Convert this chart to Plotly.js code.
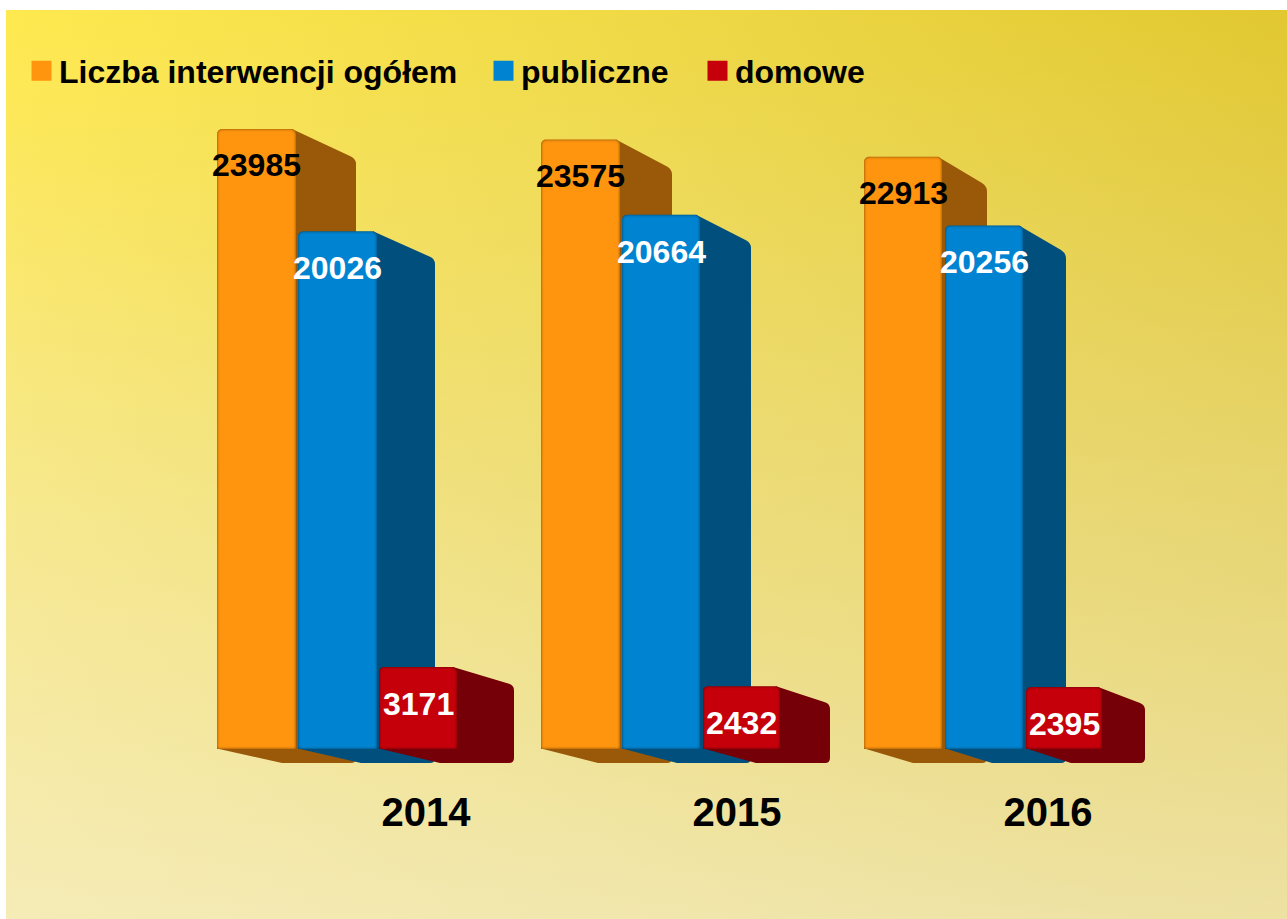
<!DOCTYPE html>
<html lang="pl">
<head>
<meta charset="utf-8">
<title>Liczba interwencji</title>
<script src="https://cdn.plot.ly/plotly-3.0.1.min.js"></script>
<style>
html,body{margin:0;padding:0;background:#fff;width:1287px;height:919px;overflow:hidden}
#bg{position:absolute;left:6px;top:10px;width:1281px;height:909px;
background:
 linear-gradient(to top right,rgba(255,250,222,.28) 0%,rgba(255,250,222,0) 45%),
 linear-gradient(to bottom,rgba(238,230,190,0) 0%,rgba(238,228,180,.46) 50%,rgba(240,230,182,.86) 100%),
 linear-gradient(100deg,#FFE94F 0%,#EDD743 50%,#DEC42B 100%);}
#chart{position:absolute;left:0;top:0;width:1287px;height:919px}
</style>
</head>
<body>
<div id="bg"></div>
<div id="chart"></div>
<svg width="0" height="0" style="position:absolute">
  <defs>
    <filter id="bevel" x="-15%" y="-15%" width="130%" height="130%" color-interpolation-filters="sRGB">
      <feComponentTransfer in="SourceAlpha" result="inv"><feFuncA type="table" tableValues="1 0"/></feComponentTransfer>
      <feGaussianBlur in="inv" stdDeviation="1.6" result="blur"/>
      <feFlood flood-color="#000" flood-opacity=".55"/>
      <feComposite in2="blur" operator="in"/>
      <feComposite in2="SourceAlpha" operator="in" result="shade"/>
      <feMerge><feMergeNode in="SourceGraphic"/><feMergeNode in="shade"/></feMerge>
    </filter>
  </defs>
</svg>
<script>
const years = ['2014', '2015', '2016'];
const seriesNames = ['Liczba interwencji ogółem', 'publiczne', 'domowe'];
const ogolem = [23985, 23575, 22913];
const publiczne = [20026, 20664, 20256];
const domowe = [3171, 2432, 2395];

const seriesValues = [ogolem, publiczne, domowe];
const frontColors = ['#FF950E', '#0084D1', '#C5000B'];
const sideColors = ['#995909', '#004F7D', '#760007'];
const labelColors = ['#000000', '#ffffff', '#ffffff'];
const labelShift = [-36, -37, -37];

// x-axis units = screen px; y-axis in value units
const PX = 0.02585;
const frontLeft = [[217, 541, 864], [298, 622, 945], [379, 703, 1026]];
const frontRight = [[296, 620, 942], [377, 700, 1023], [457, 780, 1102]];
const backRight = [[356, 672, 987], [435, 751, 1066], [514, 830, 1145]];
const floorWidth = 74;
const yearTicks = [426, 737, 1048];
const FLOOR = -14 / PX;
const backTop = v => 0.9783 * v - 16.6 / PX;

function sidePath(s, g) {
  const v = seriesValues[s][g], fr = frontRight[s][g], br = backRight[s][g];
  const fl = frontLeft[s][g], bl = br - floorWidth;
  const bt = backTop(v), r = 5, ry = 5 / PX;
  const slope = (v - bt) / (br - fr);
  return 'M' + (fr - 4) + ',' + v +
    ' L' + (br - r) + ',' + (bt + slope * r) +
    ' Q' + br + ',' + bt + ' ' + br + ',' + (bt - ry) +
    ' L' + br + ',' + (FLOOR + ry) +
    ' Q' + br + ',' + FLOOR + ' ' + (br - r) + ',' + FLOOR +
    ' L' + bl + ',' + FLOOR +
    ' L' + (fl + 2) + ',' + 0 +
    ' L' + (fr - 4) + ',' + 0 + ' Z';
}

const traces = seriesNames.map((name, s) => ({
  type: 'bar',
  name,
  x: frontLeft[s].map((l, g) => (l + frontRight[s][g]) / 2),
  y: seriesValues[s],
  width: frontLeft[s].map((l, g) => frontRight[s][g] - l),
  legend: s === 0 ? 'legend' : 'legend' + (s + 1),
  hovertemplate: name + ': %{y}<extra></extra>',
  marker: {color: frontColors[s], cornerradius: 5, line: {width: 0}}
}));

const shapes = [];
seriesNames.forEach((_, s) => years.forEach((_, g) => shapes.push({
  type: 'path', layer: 'below', xref: 'x', yref: 'y',
  path: sidePath(s, g), fillcolor: sideColors[s], line: {width: 0}
})));

const annotations = [];
seriesNames.forEach((_, s) => years.forEach((_, g) => annotations.push({
  x: (frontLeft[s][g] + frontRight[s][g]) / 2,
  y: seriesValues[s][g], xref: 'x', yref: 'y', yshift: labelShift[s],
  text: String(seriesValues[s][g]), showarrow: false,
  xanchor: 'center', yanchor: 'middle',
  font: {family: 'Liberation Sans', size: 32, color: labelColors[s], weight: 700}
})));

const legendFont = {family: 'Liberation Sans', size: 32, color: '#000', weight: 700};
const legendY = 1 - 71 / 770;
const legendBase = {orientation: 'v', yanchor: 'middle', y: legendY, xanchor: 'left',
  bgcolor: 'rgba(0,0,0,0)', borderwidth: 0, font: legendFont};

const layout = {
  width: 1287, height: 919, autosize: false,
  margin: {l: 0, r: 0, t: 0, b: 149, pad: 0},
  paper_bgcolor: 'rgba(0,0,0,0)', plot_bgcolor: 'rgba(0,0,0,0)',
  showlegend: true,
  barmode: 'overlay',
  legend: Object.assign({}, legendBase, {x: 19 / 1287}),
  legend2: Object.assign({}, legendBase, {x: 481 / 1287}),
  legend3: Object.assign({}, legendBase, {x: 695 / 1287}),
  xaxis: {range: [0, 1287], tickmode: 'array', tickvals: yearTicks, ticktext: years,
    ticks: 'outside', ticklen: 7, tickcolor: 'rgba(0,0,0,0)', showgrid: false,
    zeroline: false, showline: false,
    tickfont: {family: 'Liberation Sans', size: 40, color: '#000', weight: 700}},
  yaxis: {range: [-21 / PX, 749 / PX], visible: false, showgrid: false, zeroline: false},
  shapes, annotations,
  font: {family: 'Liberation Sans'}
};

const gd = document.getElementById('chart');
function finishMarks() {
  gd.querySelectorAll('g.legendpoints path').forEach(p => {
    p.setAttribute('d', 'M10,10H-10V-10H10Z');
    p.setAttribute('transform', 'translate(22.5,0)');
    p.style.strokeWidth = '0';
  });
  gd.querySelectorAll('.barlayer .point path').forEach(p => {
    p.setAttribute('filter', 'url(#bevel)');
  });
}
Plotly.newPlot(gd, traces, layout, {displayModeBar: false}).then(() => {
  finishMarks();
  gd.on('plotly_afterplot', finishMarks);
});
</script>
</body>
</html>
